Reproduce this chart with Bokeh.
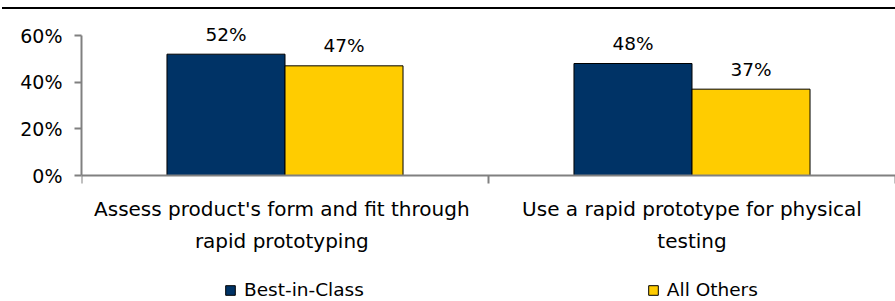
from bokeh.plotting import figure
from bokeh.models import (ColumnDataSource, Range1d, LinearAxis, FixedTicker, Legend, LegendItem,
                          PrintfTickFormatter)
from bokeh.transform import dodge
from bokeh.core.properties import value
from bokeh.embed import file_html
from bokeh.resources import INLINE

# ---- data ----
categories = ["Assess product's  form and fit through\nrapid  prototyping",
              "Use a rapid prototype for physical\ntesting"]
best_in_class = [52, 48]
all_others = [47, 37]
series_names = ["Best-in-Class", "All Others"]
y_ticks = [0, 20, 40, 60]

# ---- style ----
FONT = "DejaVu Sans"
BLUE = "#003366"
YELLOW = "#FFCC00"
AXIS_GRAY = "#808080"
BAR_W = 0.29

n = len(categories)
cat_pos = [i + 0.5 for i in range(n)]          # category centres on a 1-unit band scale
boundaries = list(range(n + 1))                # band edges (separator ticks)

source = ColumnDataSource(dict(
    pos=cat_pos,
    best=best_in_class,
    others=all_others,
    best_lbl=[f"{v}%" for v in best_in_class],
    others_lbl=[f"{v}%" for v in all_others],
))

# the frame reaches the bottom of the figure; space below 0 holds the labels and legend
p = figure(x_range=Range1d(0, n), y_range=Range1d(-54, 69.86),
           width=893, height=292, output_backend="svg", toolbar_location=None,
           x_axis_location=None, min_border_left=79, min_border_right=0,
           min_border_top=3, min_border_bottom=0)
p.styles = {"margin-top": "7px", "margin-left": "2px", "border-top": "2px solid black"}
p.outline_line_color = None
p.xgrid.visible = False
p.ygrid.visible = False
p.background_fill_color = "white"

# y axis
ya = p.yaxis[0]
ya.ticker = FixedTicker(ticks=y_ticks)
ya.formatter = PrintfTickFormatter(format="%d%%")
ya.bounds = (0, 60)
ya.axis_line_color = AXIS_GRAY
ya.axis_line_width = 2
ya.major_tick_line_color = AXIS_GRAY
ya.major_tick_line_width = 2
ya.major_tick_out = 7
ya.major_tick_in = 0
ya.minor_tick_line_color = None
ya.major_label_standoff = 12
ya.major_label_text_font = FONT
ya.major_label_text_font_size = "19px"
ya.major_label_text_color = "black"

# bars
r1 = p.vbar(x=dodge("pos", -BAR_W / 2), top="best", width=BAR_W,
            source=source, fill_color=BLUE, line_color="black", line_width=1)
r2 = p.vbar(x=dodge("pos", BAR_W / 2), top="others", width=BAR_W,
            source=source, fill_color=YELLOW, line_color="black", line_width=1)

# value labels
for col, lbl, off in (("best", "best_lbl", -BAR_W / 2), ("others", "others_lbl", BAR_W / 2)):
    p.text(x=dodge("pos", off), y=col, text=lbl, source=source,
           text_align="center", text_baseline="alphabetic", y_offset=-20,
           text_font=value(FONT), text_font_size="18.5px", text_color="black")

# x axis line at y=0 with separator ticks
sep_axis = LinearAxis(ticker=FixedTicker(ticks=boundaries), fixed_location=0,
                      major_label_text_font_size="0px", major_label_standoff=0,
                      major_tick_out=8, major_tick_in=0, minor_tick_line_color=None,
                      axis_line_color=AXIS_GRAY, axis_line_width=2,
                      major_tick_line_color=AXIS_GRAY, major_tick_line_width=2)
p.add_layout(sep_axis, "below")

# category labels under y=0
cat_axis = LinearAxis(ticker=FixedTicker(ticks=cat_pos), fixed_location=0,
                      major_label_overrides={pos: name for pos, name in zip(cat_pos, categories)},
                      axis_line_color=None, major_tick_line_color=None, minor_tick_line_color=None,
                      major_tick_out=0, major_tick_in=0, major_label_standoff=21,
                      major_label_text_font=FONT, major_label_text_font_size="20px",
                      major_label_text_line_height=1.35, major_label_text_color="black")
p.add_layout(cat_axis, "below")

legend = Legend(items=[LegendItem(label=series_names[0], renderers=[r1]),
                       LegendItem(label=series_names[1], renderers=[r2])],
                orientation="horizontal", location=(143, 1), spacing=283,
                glyph_width=12, glyph_height=12, label_standoff=8,
                label_text_font=FONT, label_text_font_size="18.5px", label_text_color="black",
                border_line_color=None, background_fill_alpha=0, padding=0, margin=0)
p.add_layout(legend, "center")

open("out.html", "w").write(file_html(p, INLINE))
